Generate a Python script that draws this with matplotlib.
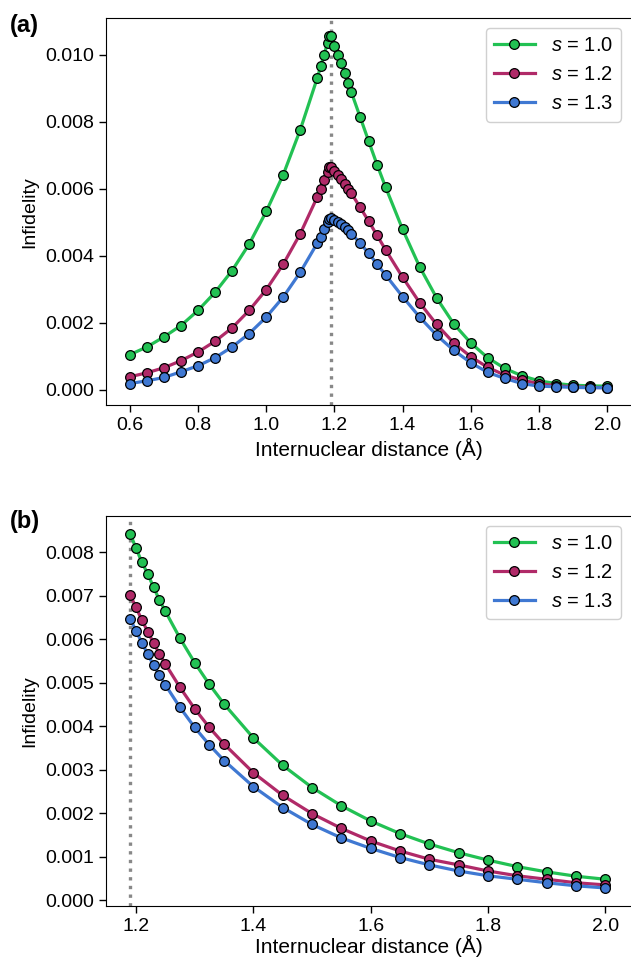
import matplotlib
matplotlib.use("Agg")
import matplotlib.pyplot as plt

plt.rcParams['font.family'] = ['Liberation Sans', 'DejaVu Sans']
plt.rcParams['mathtext.fontset'] = 'custom'
plt.rcParams['mathtext.rm'] = 'Liberation Sans'
plt.rcParams['mathtext.it'] = 'Liberation Sans:italic'

# ---------------- data: panel (a) ----------------
dist_a = [0.60, 0.65, 0.70, 0.75, 0.80, 0.85, 0.90, 0.95, 1.00, 1.05, 1.10,
          1.15, 1.16, 1.17, 1.18, 1.185, 1.19, 1.20, 1.21, 1.22, 1.23, 1.24, 1.25,
          1.275, 1.30, 1.325, 1.35, 1.40, 1.45, 1.50, 1.55, 1.60, 1.65, 1.70,
          1.75, 1.80, 1.85, 1.90, 1.95, 2.00]
a_s10 = [1.05, 1.28, 1.58, 1.92, 2.37, 2.91, 3.56, 4.35, 5.32, 6.42, 7.76,
         9.31, 9.66, 10.00, 10.36, 10.55, 10.56, 10.27, 10.00, 9.74, 9.44, 9.15, 8.87,
         8.15, 7.43, 6.72, 6.05, 4.79, 3.67, 2.74, 1.97, 1.40, 0.955, 0.64,
         0.42, 0.27, 0.19, 0.14, 0.12, 0.11]
a_s12 = [0.39, 0.51, 0.66, 0.87, 1.13, 1.45, 1.85, 2.37, 2.99, 3.75, 4.66,
         5.76, 6.00, 6.25, 6.49, 6.64, 6.66, 6.53, 6.41, 6.29, 6.15, 6.00, 5.86,
         5.45, 5.04, 4.61, 4.18, 3.36, 2.60, 1.95, 1.40, 0.99, 0.67, 0.44,
         0.29, 0.19, 0.12, 0.095, 0.074, 0.065]
a_s13 = [0.19, 0.27, 0.37, 0.54, 0.72, 0.96, 1.28, 1.68, 2.17, 2.77, 3.51,
         4.38, 4.57, 4.79, 5.01, 5.10, 5.12, 5.07, 5.01, 4.94, 4.86, 4.76, 4.66,
         4.38, 4.08, 3.75, 3.43, 2.78, 2.17, 1.63, 1.18, 0.81, 0.52, 0.34,
         0.19, 0.11, 0.095, 0.074, 0.065, 0.065]

# ---------------- data: panel (b) ----------------
dist_b = [1.19, 1.20, 1.21, 1.22, 1.23, 1.24, 1.25, 1.275, 1.30, 1.325, 1.35,
          1.40, 1.45, 1.50, 1.55, 1.60, 1.65, 1.70, 1.75, 1.80, 1.85, 1.90, 1.95, 2.00]
b_s10 = [8.43, 8.09, 7.77, 7.50, 7.19, 6.90, 6.64, 6.02, 5.46, 4.96, 4.51,
         3.73, 3.10, 2.59, 2.17, 1.82, 1.53, 1.29, 1.09, 0.92, 0.77, 0.65, 0.55, 0.48]
b_s12 = [7.02, 6.73, 6.44, 6.17, 5.91, 5.66, 5.43, 4.89, 4.40, 3.97, 3.59,
         2.93, 2.41, 1.99, 1.65, 1.36, 1.13, 0.94, 0.81, 0.67, 0.56, 0.48, 0.40, 0.35]
b_s13 = [6.47, 6.19, 5.92, 5.65, 5.40, 5.17, 4.95, 4.43, 3.97, 3.57, 3.21,
         2.61, 2.13, 1.74, 1.43, 1.19, 0.98, 0.81, 0.67, 0.56, 0.48, 0.40, 0.33, 0.28]

series_labels = ['$s$ = 1.0', '$s$ = 1.2', '$s$ = 1.3']
series_colors = ['#22c153', '#b02a68', '#3f78d2']
equilibrium = 1.19
scale = 1e-3

fig = plt.figure(figsize=(6.31, 9.58), dpi=100)
W, H = 631, 958
ax1 = fig.add_axes([106 / W, 1 - 405.3 / H, 1 - 106 / W, (405.3 - 18.2) / H])
ax2 = fig.add_axes([106.4 / W, 1 - 905.7 / H, 1 - 106.4 / W, (905.7 - 515.8) / H])


def draw(ax, x, ys, xpad):
    for y, lab, col in zip(ys, series_labels, series_colors):
        ax.plot(x, [v * scale for v in y], '-o', color=col, lw=2.3,
                marker='o', markersize=7, markerfacecolor=col,
                markeredgecolor='black', markeredgewidth=0.9, label=lab, zorder=3)
    ax.axvline(equilibrium, color='#888888', ls=(0, (1, 1.6)), lw=2.4, zorder=2)
    ax.spines['right'].set_visible(False)
    ax.tick_params(labelsize=14, length=5, width=1)
    ax.set_xlabel('Internuclear distance (Å)', fontsize=15, labelpad=xpad)
    ax.set_ylabel('Infidelity', fontsize=14, labelpad=5)
    leg = ax.legend(loc='upper right', fontsize=14.5, handlelength=2.0,
                    borderaxespad=0.5, framealpha=1)
    leg.get_frame().set_edgecolor('#d0d0d0')


draw(ax1, dist_a, [a_s10, a_s12, a_s13], 2.5)
draw(ax2, dist_b, [b_s10, b_s12, b_s13], 0.5)

ax1.set_xticks([0.6, 0.8, 1.0, 1.2, 1.4, 1.6, 1.8, 2.0])
ax1.set_yticks([0.0, 0.002, 0.004, 0.006, 0.008, 0.010])
ax2.set_xticks([1.2, 1.4, 1.6, 1.8, 2.0])
ax2.set_yticks([0.0, 0.001, 0.002, 0.003, 0.004, 0.005, 0.006, 0.007, 0.008])
ax2.set_xlim(1.1495, 2.0436)

fig.text(10 / W, 1 - 32 / H, '(a)', fontsize=17, fontweight='bold', va='baseline')
fig.text(10 / W, 1 - 528 / H, '(b)', fontsize=17, fontweight='bold', va='baseline')

fig.savefig('out.png', dpi=100)
